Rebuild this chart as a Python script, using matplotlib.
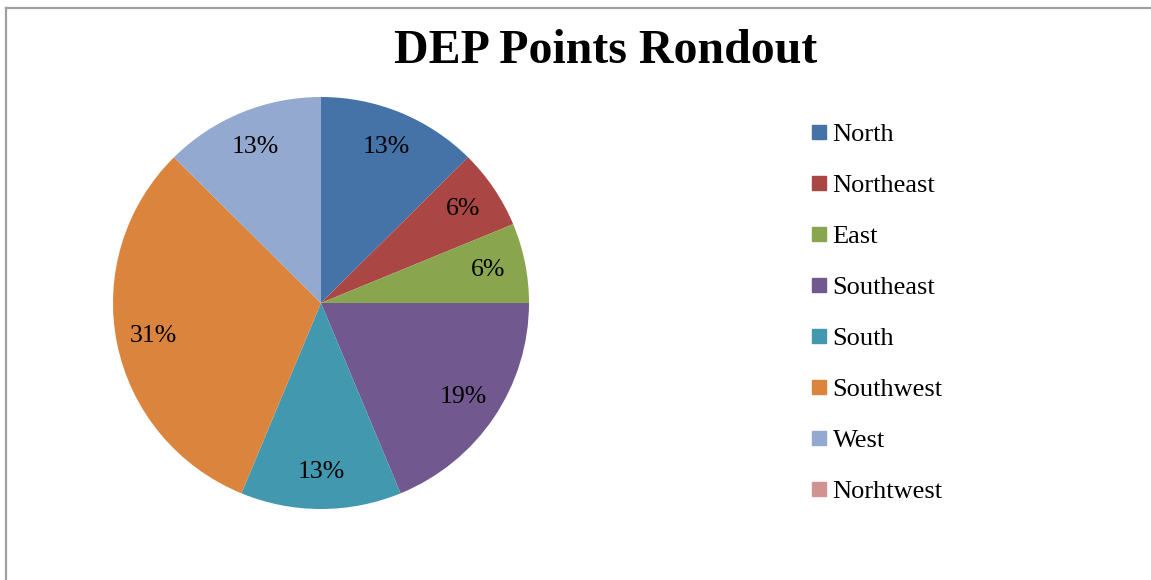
import math
import matplotlib
matplotlib.use("Agg")
import matplotlib.pyplot as plt
from matplotlib.lines import Line2D

categories = ["North", "Northeast", "East", "Southeast", "South", "Southwest", "West", "Norhtwest"]
values = [2, 1, 1, 3, 2, 5, 2, 0]
colors = ["#4572A7", "#AA4643", "#89A54E", "#71588F", "#4198AF", "#DB843D", "#93A9CF", "#D19392"]
title = "DEP Points Rondout"

W, H = 1151, 580
fig = plt.figure(figsize=(W / 100, H / 100), dpi=100)
plt.rcParams['font.family'] = ['Liberation Serif', 'DejaVu Serif']

cx, cy, rx, ry = 321, 303, 208, 206
ax = fig.add_axes([(cx - rx) / W, (H - cy - ry) / H, 2 * rx / W, 2 * ry / H])

def fmt(p):
    if p <= 0:
        return ""
    return "%d%%" % math.floor(p + 0.5)

wedges, texts, autotexts = ax.pie(values, colors=colors, startangle=90, counterclock=False,
                                  autopct=fmt, pctdistance=0.82, radius=1,
                                  wedgeprops=dict(linewidth=0),
                                  textprops=dict(fontsize=18.5, color="black"))
ax.set_xlim(-1, 1)
ax.set_ylim(-1, 1)
ax.set_aspect('auto')
ax.axis('off')

fig.text(606 / W, 1 - 63 / H, title, ha='center', va='baseline', fontsize=34.5, fontweight='bold')

handles = [Line2D([], [], linestyle='none', marker='s', markersize=9.5, markerfacecolor=c,
                  markeredgecolor=c) for c in colors]
fig.legend(handles, categories, loc='upper left', bbox_to_anchor=(812 / W, 1 - 123 / H),
           frameon=False, fontsize=19, labelspacing=1.04, handlelength=0.5,
           handletextpad=0.28, borderpad=0, borderaxespad=0)

fig.add_artist(Line2D([6 / W, 1], [1 - 8 / H, 1 - 8 / H], color="#A0A0A0", linewidth=1.6,
                      transform=fig.transFigure))
fig.add_artist(Line2D([6 / W, 6 / W], [1 - 8 / H, 0], color="#A0A0A0", linewidth=1.6,
                      transform=fig.transFigure))

fig.savefig("out.png", dpi=100)
